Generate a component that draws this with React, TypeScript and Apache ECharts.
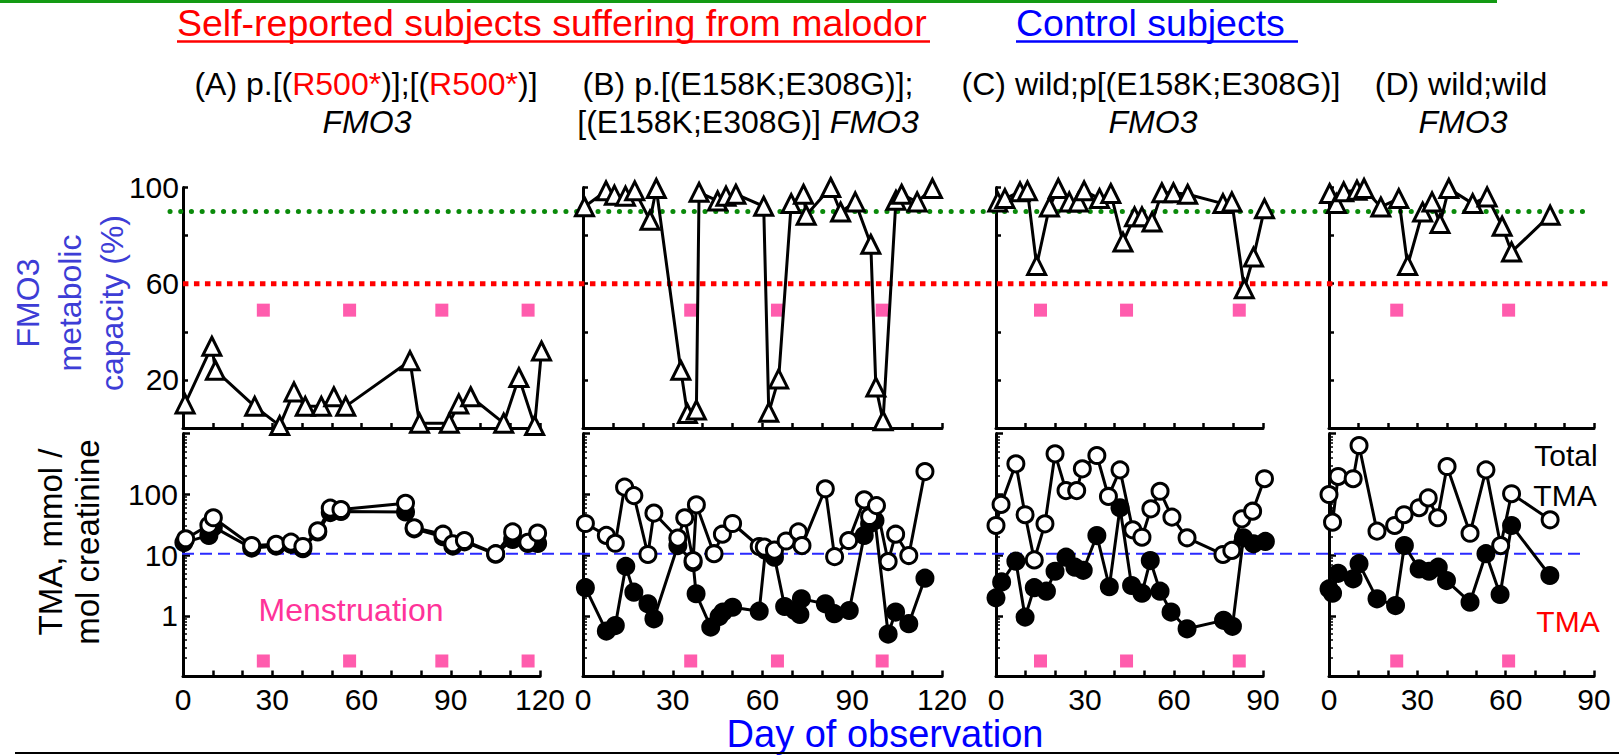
import React, { useEffect, useRef } from 'react';
import * as echarts from 'echarts';

const FONT = '"Liberation Sans", Arial, Helvetica, sans-serif';

// ---- FMO3 metabolic capacity (%) (open triangles) ----
const aCapDays = [0.7, 9.7, 10.9, 24.1, 32.5, 37.3, 41.1, 46.5, 50.7, 54.7, 76.3, 79.5, 89.5, 92.7, 96.7, 107.8, 112.9, 118.2, 120.5];
const aCapVals = [10, 34, 24, 9, 1, 15, 9, 9, 13, 9, 28, 2, 2, 10, 13, 2, 21, 1, 32];
const bCapDays = [0.5, 7.7, 10.5, 14.2, 17.3, 22.4, 24.5, 32.7, 34.9, 37.9, 38.8, 45, 47.8, 51.1, 60.4, 62.1, 65.4, 69.6, 73.7, 74.6, 82.8, 86.1, 91, 96.2, 97.9, 100.3, 104.6, 106.5, 111.7, 116.8];
const bCapVals = [92, 98.6, 96.8, 96.4, 98.6, 86.4, 99.6, 24, 6, 7.5, 98, 94.4, 96.4, 97.2, 92.2, 6.5, 20.4, 93.3, 97.2, 88.5, 100, 89.8, 94, 76.4, 17, 3, 94.7, 97.2, 94, 99.6];
const cCapDays = [0.6, 3, 8.1, 10.6, 13.7, 18, 21, 24.7, 27.8, 29.7, 34.9, 38.7, 42.8, 46.7, 49.2, 52.6, 55.9, 59.8, 64.6, 76.5, 79.5, 83.7, 86.8, 90.5];
const cCapVals = [94, 95.4, 98.2, 98.6, 67.6, 91.9, 99.6, 94, 94, 98.6, 95.4, 97.5, 77.3, 87.8, 87.8, 85.7, 97.8, 97.8, 97.2, 93.3, 94, 57.9, 71.1, 91.2];
const dCapDays = [0.2, 2.5, 5, 9.5, 11.9, 17.6, 23.7, 26.7, 31.8, 35, 37.7, 40.7, 48.8, 53.7, 58.8, 62, 75.1];
const dCapVals = [97.5, 93.3, 98.2, 98.9, 99.6, 91.9, 95.4, 67.6, 89.8, 94, 85, 99.6, 93.3, 96.1, 83.9, 73.2, 88.5];

// ---- Total TMA (open circles), mmol/mol creatinine ----
const aTotDays = [0.9, 8.7, 10.2, 23.1, 31.3, 36.3, 40.3, 45.3, 49.5, 53.1, 74.8, 77.7, 87.4, 90.7, 94.6, 105.1, 110.8, 115.9, 119.2];
const aTotVals = [18.5, 31, 41, 14.3, 15, 16.3, 13.8, 25, 59, 56, 71, 28, 22, 15.3, 17.3, 10.5, 24, 16.2, 23];
const bTotDays = [0.8, 7.8, 10.8, 13.9, 17, 21.7, 23.7, 31.7, 34, 36.8, 37.9, 43.8, 46.6, 50, 58.9, 60.6, 64, 67.9, 72, 73.2, 81, 84.1, 88.8, 94, 95.8, 98.1, 102, 104.5, 108.9, 114.3];
const bTotVals = [33, 21, 15.6, 131, 95, 10.2, 49, 19, 41, 8.1, 67, 10.5, 22, 33, 13.8, 13.5, 12, 17, 24, 14.3, 123, 9.4, 17.3, 81, 43, 65, 7.8, 22, 9.8, 236];
const cTotDays = [0, 1.7, 6.7, 9.8, 12.9, 16.5, 19.9, 23.6, 27.2, 29.1, 34, 37.9, 41.8, 46.1, 49.2, 52.2, 55.3, 59.3, 64.4, 76.5, 79.5, 82.9, 86.5, 90.5];
const cTotVals = [30.6, 68, 317, 46, 8.3, 32.6, 463, 115, 115, 262, 434, 92, 252, 26, 19.6, 57.5, 112, 42, 19.2, 10.2, 11.9, 39.4, 52.6, 180];
const dTotDays = [0, 1.2, 3.1, 8.2, 10.2, 16.3, 22.3, 25.5, 30.6, 33.7, 36.9, 40.1, 47.9, 53.3, 58.3, 62, 75.1];
const dTotVals = [99, 34.7, 196, 180, 634, 24.7, 30.6, 46, 60, 87, 41, 286, 22.8, 252, 14.3, 102, 38];

// ---- TMA (filled circles) ----
const aTmaDays = [0.3, 8.7, 10.2, 23.1, 31.3, 36.3, 40.3, 45.3, 49.5, 53.1, 74.8, 77.7, 87.4, 90.7, 94.6, 105.1, 110.8, 115.9, 119.2];
const aTmaVals = [16, 21, 29, 13, 14, 15, 12.7, 24, 50, 52, 51, 27, 20, 14, 16.5, 10.3, 18, 15.5, 15.5];
const bTmaDays = [0.8, 7.8, 10.8, 14.3, 17, 21.7, 23.7, 31.7, 36.8, 37.8, 42.7, 45.5, 46.8, 50, 58.9, 61, 64, 67.4, 70.8, 72.5, 73, 81, 84, 89, 94, 95.8, 97.6, 102, 104.5, 108.9, 114.3];
const bTmaVals = [2.9, 0.56, 0.69, 6.5, 2.44, 1.57, 0.89, 14.3, 7.5, 2.3, 0.65, 0.97, 1.15, 1.38, 1.19, 12, 9.2, 1.42, 1.22, 1.05, 1.9, 1.57, 1.08, 1.22, 21, 32.6, 37, 0.5, 1.15, 0.74, 4.15];
const cTmaDays = [0, 1.9, 6.7, 9.8, 12.9, 17, 19.9, 23.6, 26.6, 29.4, 34, 38.2, 41.8, 45.7, 49.2, 52, 55.3, 59, 64.4, 76.7, 79.7, 83.4, 86.8, 90.8];
const cTmaVals = [1.97, 3.6, 7.9, 0.95, 2.9, 2.54, 5.4, 9.2, 6.3, 5.6, 20.9, 3.0, 60, 3.15, 2.35, 8.1, 2.54, 1.15, 0.61, 0.84, 0.67, 19.2, 15.3, 16.7];
const dTmaDays = [0, 1.2, 3.1, 8.2, 10.2, 16.3, 22.6, 25.6, 30.6, 34, 37.1, 39.9, 47.9, 53.3, 58.1, 62, 75];
const dTmaVals = [2.77, 2.35, 5.0, 4.05, 7.2, 1.9, 1.47, 14.3, 5.9, 5.4, 6.3, 3.8, 1.67, 10.5, 2.24, 30.6, 4.6];

// ---- Menstruation days ----
const aMens = [27, 56, 87, 116];
const bMens = [36, 65, 100];
const cMens = [15, 44, 82];
const dMens = [23, 61];
const mensCapLevel = 49;
const mensTmaLevel = 0.18;

// ---- Reference levels ----
const capHigh = 90;
const capLow = 60;
const tmaRef = 10.5;

// ---- Axis ticks ----
const capTickLabels = [20, 60, 100];
const tmaTickLabels = [1, 10, 100];
const dayLabelStep = 30;

const zip = (xs: number[], ys: number[]) => xs.map((x, i) => [x, ys[i]]);

const PANELS = [
  { left: 183, width: 357, max: 120, cap: zip(aCapDays, aCapVals), tot: zip(aTotDays, aTotVals), tma: zip(aTmaDays, aTmaVals), mens: aMens, labels: true },
  { left: 583, width: 359, max: 120, cap: zip(bCapDays, bCapVals), tot: zip(bTotDays, bTotVals), tma: zip(bTmaDays, bTmaVals), mens: bMens, labels: false },
  { left: 996, width: 267, max: 90, cap: zip(cCapDays, cCapVals), tot: zip(cTotDays, cTotVals), tma: zip(cTmaDays, cTmaVals), mens: cMens, labels: false },
  { left: 1329, width: 265, max: 90, cap: zip(dCapDays, dCapVals), tot: zip(dTotDays, dTotVals), tma: zip(dTmaDays, dTmaVals), mens: dMens, labels: false },
];

const TOP_Y = 187.5, TOP_H = 240.5;
const BOT_Y = 433.5, BOT_H = 243;
const PINK = '#ff3399';

function buildOption() {
  const grid: any[] = [];
  const xAxis: any[] = [];
  const yAxis: any[] = [];
  const series: any[] = [];
  const axisLine = { show: true, onZero: false, lineStyle: { color: '#000', width: 3 } };
  const axisTick = { show: true, inside: true, length: 5, lineStyle: { color: '#000', width: 2.5 } };

  PANELS.forEach((p) => {
    const gTop = grid.length;
    grid.push({ left: p.left, top: TOP_Y, width: p.width, height: TOP_H, containLabel: false, outerBoundsMode: 'none' });
    grid.push({ left: p.left, top: BOT_Y, width: p.width, height: BOT_H, containLabel: false, outerBoundsMode: 'none' });
    const gBot = gTop + 1;

    xAxis.push({ type: 'value', gridIndex: gTop, min: 0, max: p.max, interval: 10, axisLine, axisTick, axisLabel: { show: false }, splitLine: { show: false } });
    xAxis.push({
      type: 'value', gridIndex: gBot, min: 0, max: p.max, interval: 10, axisLine, axisTick: { ...axisTick, length: 6 },
      axisLabel: { show: true, fontSize: 30, color: '#000', margin: 8, fontFamily: FONT, formatter: (v: number) => (v % dayLabelStep === 0 ? String(v) : '') },
      splitLine: { show: false },
    });
    yAxis.push({
      type: 'value', gridIndex: gTop, min: 0, max: 100, interval: 20, axisLine, axisTick,
      axisLabel: {
        show: p.labels, fontSize: 30, color: '#000', margin: 4, fontFamily: FONT, padding: [30, 0, 0, 0],
        formatter: (v: number) => (capTickLabels.includes(v) ? String(v) : ''),
      },
      splitLine: { show: false },
    });
    yAxis.push({
      type: 'log', logBase: 10, gridIndex: gBot, min: 0.1, max: 1000, axisLine, axisTick: { ...axisTick, length: 7 },
      minorTick: { show: true, splitNumber: 9, length: 4, lineStyle: { color: '#000', width: 1.5 } },
      axisLabel: {
        show: p.labels, fontSize: 30, color: '#000', margin: 5, fontFamily: FONT, padding: [11, 0, 0, 0],
        formatter: (v: number) => {
          const m = tmaTickLabels.find((t) => Math.abs(v - t) < 1e-6 * t);
          return m !== undefined ? String(m) : '';
        },
      },
      splitLine: { show: false }, minorSplitLine: { show: false },
    });

    const xi = xAxis.length - 2, yi = yAxis.length - 2;
    series.push({
      type: 'scatter', xAxisIndex: xi, yAxisIndex: yi, symbol: 'rect', symbolSize: 13, silent: true,
      itemStyle: { color: PINK }, data: p.mens.map((d) => [d, mensCapLevel]), z: 2,
    });
    series.push({
      type: 'line', xAxisIndex: xi, yAxisIndex: yi, data: p.cap, symbol: 'triangle', symbolSize: 18, clip: false,
      lineStyle: { color: '#000', width: 3 }, itemStyle: { color: '#fff', borderColor: '#000', borderWidth: 3 }, z: 4,
    });
    series.push({
      type: 'scatter', xAxisIndex: xi + 1, yAxisIndex: yi + 1, symbol: 'rect', symbolSize: 13, silent: true,
      itemStyle: { color: PINK }, data: p.mens.map((d) => [d, mensTmaLevel]), z: 2,
    });
    series.push({
      type: 'line', xAxisIndex: xi + 1, yAxisIndex: yi + 1, data: p.tma, symbol: 'circle', symbolSize: 17, clip: false,
      lineStyle: { color: '#000', width: 3 }, itemStyle: { color: '#000', borderColor: '#000', borderWidth: 2 }, z: 4,
    });
    series.push({
      type: 'line', xAxisIndex: xi + 1, yAxisIndex: yi + 1, data: p.tot, symbol: 'circle', symbolSize: 16, clip: false,
      lineStyle: { color: '#000', width: 3 }, itemStyle: { color: '#fff', borderColor: '#000', borderWidth: 3 }, z: 5,
    });
  });

  // overlay grids for the reference lines that cross all panels
  const gCap = grid.length;
  grid.push({ left: 170, top: TOP_Y, width: 1438, height: TOP_H, containLabel: false, outerBoundsMode: 'none' });
  grid.push({ left: 182, top: BOT_Y, width: 1403, height: BOT_H, containLabel: false, outerBoundsMode: 'none' });
  xAxis.push({ type: 'value', gridIndex: gCap, min: 0, max: 1, show: false });
  xAxis.push({ type: 'value', gridIndex: gCap + 1, min: 0, max: 1, show: false });
  yAxis.push({ type: 'value', gridIndex: gCap, min: 0, max: 100, show: false });
  yAxis.push({ type: 'log', gridIndex: gCap + 1, min: 0.1, max: 1000, show: false });
  const ox = xAxis.length - 2, oy = yAxis.length - 2;
  series.push({
    type: 'line', xAxisIndex: ox, yAxisIndex: oy, symbol: 'none', silent: true, z: 1,
    lineStyle: { color: '#0a8a0a', width: 5, type: [0.1, 10.6], cap: 'round' },
    data: [[0, capHigh], [0.989, capHigh]],
  });
  series.push({
    type: 'line', xAxisIndex: ox, yAxisIndex: oy, symbol: 'none', silent: true, z: 1,
    lineStyle: { color: '#ff0000', width: 5, type: [5.5, 5.5] },
    data: [[0.009, capLow], [1, capLow]],
  });
  series.push({
    type: 'line', xAxisIndex: ox + 1, yAxisIndex: oy + 1, symbol: 'none', silent: true, z: 1,
    lineStyle: { color: '#2a2aff', width: 2, type: [12, 6] },
    data: [[0, tmaRef], [1, tmaRef]],
  });

  const T = (x: number, y: number, text: string, fontSize: number, fill: string, extra: any = {}) => ({
    type: 'text', x, y, silent: true, ...extra.el,
    style: { text, fontSize, fill, fontFamily: FONT, align: extra.align || 'center', verticalAlign: 'middle', ...(extra.style || {}) },
  });

  const graphic = [
    { type: 'rect', shape: { x: 0, y: 0, width: 1497, height: 3 }, style: { fill: '#139a13' }, silent: true },
    T(177, 23, 'Self-reported subjects suffering from malodor', 37.5, '#ff0000', { align: 'left' }),
    { type: 'line', shape: { x1: 177, y1: 41.5, x2: 930, y2: 41.5 }, style: { stroke: '#ff0000', lineWidth: 2.5 }, silent: true },
    T(1016, 23, 'Control subjects', 37.5, '#0000ff', { align: 'left' }),
    { type: 'line', shape: { x1: 1016, y1: 41.5, x2: 1298, y2: 41.5 }, style: { stroke: '#0000ff', lineWidth: 2.5 }, silent: true },

    T(366, 84, '(A) p.[({r|R500*})];[({r|R500*})]', 32, '#000', { style: { rich: { r: { fill: '#ff0000', fontSize: 32, fontFamily: FONT } } } }),
    T(367, 122, 'FMO3', 32, '#000', { style: { fontStyle: 'italic' } }),
    T(748, 84, '(B) p.[(E158K;E308G)];', 32, '#000'),
    T(748, 122, '[(E158K;E308G)] {i|FMO3}', 32, '#000', { style: { rich: { i: { fontStyle: 'italic', fontSize: 32, fontFamily: FONT, fill: '#000' } } } }),
    T(1151, 84, '(C) wild;p[(E158K;E308G)]', 32, '#000'),
    T(1153, 122, 'FMO3', 32, '#000', { style: { fontStyle: 'italic' } }),
    T(1461, 84, '(D) wild;wild', 32, '#000'),
    T(1463, 122, 'FMO3', 32, '#000', { style: { fontStyle: 'italic' } }),

    T(27.5, 303, 'FMO3', 32, '#3d3dd6', { el: { rotation: Math.PI / 2 } }),
    T(69.5, 303, 'metabolic', 32, '#3d3dd6', { el: { rotation: Math.PI / 2 } }),
    T(112, 303, 'capacity (%)', 32, '#3d3dd6', { el: { rotation: Math.PI / 2 } }),
    T(50, 542, 'TMA, mmol /', 33, '#000', { el: { rotation: Math.PI / 2 } }),
    T(87, 542, 'mol creatinine', 33, '#000', { el: { rotation: Math.PI / 2 } }),

    T(351, 610, 'Menstruation', 32, PINK),
    T(1566, 455, 'Total', 30, '#000'),
    T(1565, 495, 'TMA', 30, '#000'),
    T(1568, 621, 'TMA', 30, '#ff0000'),
    T(885, 734, 'Day of observation', 38, '#0000ff'),
    { type: 'line', shape: { x1: 15, y1: 753, x2: 1619, y2: 753 }, style: { stroke: '#000', lineWidth: 2 }, silent: true },
  ];

  return {
    animation: false,
    backgroundColor: '#fff',
    textStyle: { fontFamily: FONT },
    grid, xAxis, yAxis, series,
    graphic: { elements: graphic },
  };
}

export default function App() {
  const ref = useRef<HTMLDivElement>(null);
  useEffect(() => {
    if (!ref.current) return;
    const chart = echarts.init(ref.current, undefined, { renderer: 'svg' });
    chart.setOption(buildOption() as any);
    return () => chart.dispose();
  }, []);
  return <div ref={ref} style={{ position: 'absolute', left: 0, top: 0, width: 1619, height: 756, background: '#fff' }} />;
}
